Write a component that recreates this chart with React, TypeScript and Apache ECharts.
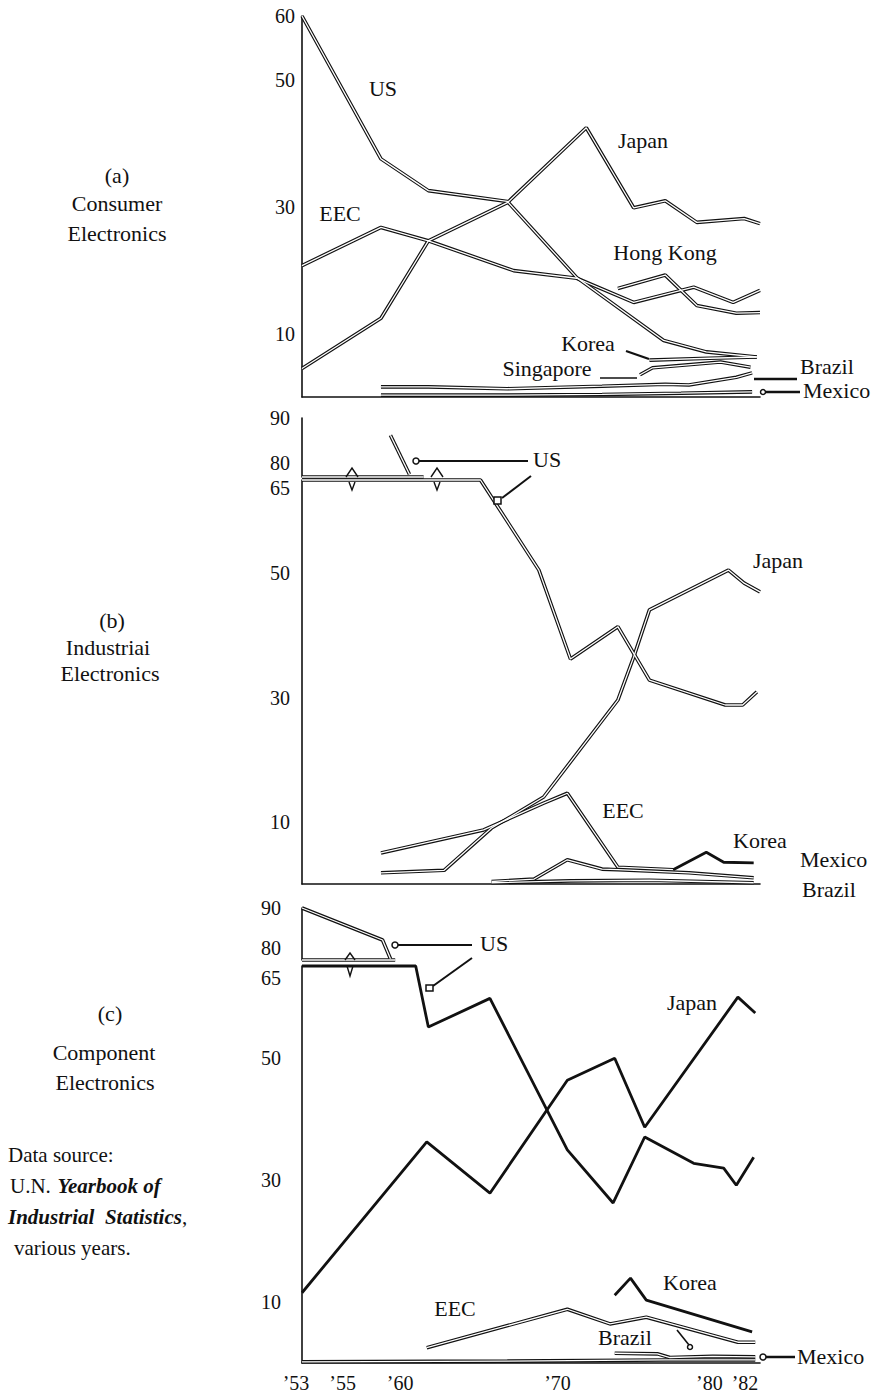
import React, { useEffect, useRef } from "react";
import * as echarts from "echarts";

const SERIF = '"Liberation Serif", "Times New Roman", serif';
const INK = "#111";

// ---- axes ----
const yearMin = 1953;
const yearMax = 1982;
const xTickYears = [1953, 1955, 1960, 1970, 1980, 1982];
const xTickTexts = ["’53", "’55", "’60", "’70", "’80", "’82"];
const aTicks = [10, 30, 50, 60];
const lowTicks = [10, 30, 50, 65];
const highTicks = [80, 90];

// ---- (a) Consumer Electronics: [year, share %] ----
const aUS = [[1953, 60], [1958, 37.5], [1961, 32.5], [1966, 30.8], [1970.4, 18.8], [1975.9, 8.9], [1978.6, 7.1], [1981.8, 6.3]];
const aJapan = [[1953, 4.5], [1958, 12.4], [1961, 24.6], [1966, 30.6], [1971, 42.4], [1974, 29.8], [1976, 30.9], [1978, 27.5], [1981, 28.1], [1982, 27.3]];
const aEEC = [[1953, 20.7], [1958, 26.7], [1961, 24.6], [1966.4, 19.9], [1970.4, 18.7], [1974, 14.9], [1977.8, 17.3], [1980.3, 14.9], [1982, 16.8]];
const aHongKong = [[1973, 17.1], [1976, 19.2], [1978, 14.4], [1980.5, 13.2], [1982, 13.3]];
const aKorea = [[1975, 5.8], [1978.8, 6.1], [1981.8, 6.3]];
const aSingapore = [[1974.4, 3.5], [1975.2, 4.6], [1979.5, 5.5], [1981.4, 4.7]];
const aBrazil = [[1958, 1.6], [1961, 1.6], [1966, 1.3], [1972, 1.7], [1976, 2.0], [1977.5, 1.9], [1980.5, 3.1], [1981.5, 3.8]];
const aMexico = [[1958, 0.3], [1966, 0.3], [1972, 0.4], [1977, 0.6], [1981.5, 0.8]];

// ---- (b) Industrial Electronics ----
const bUSUpperSegment = [[1958.6, 86.2], [1959.8, 77.6]];
const bUSUpperBreak = [[1953, 77], [1960.7, 77]];
const bUS = [[1953, 65], [1964.3, 65], [1968, 50.5], [1970, 36.2], [1973, 41.4], [1975, 32.8], [1979.8, 28.8], [1980.9, 28.8], [1981.8, 30.9]];
const bJapan = [[1958, 1.8], [1962, 2.2], [1965, 9], [1968.3, 14], [1973, 29.6], [1974, 36.5], [1975, 44.1], [1980, 50.5], [1981, 48.4], [1982, 47]];
const bEEC = [[1958, 5], [1964.5, 8.7], [1968.3, 13], [1969.8, 14.6], [1973, 2.7], [1976.5, 2.3]];
const bKorea = [[1976.5, 2.3], [1978.6, 5.1], [1979.7, 3.5], [1981.6, 3.4]];
const bMexico = [[1965, 0.4], [1967.7, 0.8], [1969.8, 3.9], [1972, 2.4], [1973, 2.3], [1977.5, 1.8], [1981.6, 1.0]];
const bBrazil = [[1965, 0.2], [1970, 0.5], [1975, 0.6], [1981.6, 0.2]];

// ---- (c) Component Electronics ----
const cUSUpperSegment = [[1953, 90], [1958.1, 82], [1958.6, 77.3]];
const cUSUpperBreak = [[1953, 77], [1958.9, 77]];
const cUS = [[1953, 65], [1960.2, 65], [1961, 55], [1964.9, 59.7], [1969.8, 34.9], [1972.7, 26.2], [1974.7, 37], [1977.8, 32.7], [1979.7, 31.9], [1980.5, 29.1], [1981.6, 33.7]];
const cJapan = [[1953, 11.5], [1960.9, 36.2], [1964.9, 27.8], [1969.8, 46.3], [1972.8, 49.9], [1974.7, 38.6], [1980.6, 59.9], [1981.7, 57.3]];
const cEEC = [[1960.9, 2.5], [1969.8, 8.8], [1972.5, 6.4], [1974.8, 7.5], [1980.6, 3.4], [1981.7, 3.4]];
const cKorea = [[1972.8, 11.1], [1973.8, 13.9], [1974.8, 10.3], [1981.5, 5.1]];
const cBrazil = [[1972.8, 1.6], [1975.5, 1.5], [1976.3, 0.9], [1979, 1.1], [1981.7, 1.0]];
const cMexico = [[1953, 0.2], [1966, 0.3], [1976, 0.5], [1981.7, 0.5]];

// grid index: 0 = (a), 1 = (b) upper, 2 = (b) lower, 3 = (c) upper, 4 = (c) lower
const seriesDefs: [number[][], number, string][] = [
  [aUS, 0, "hollow"], [aJapan, 0, "hollow"], [aEEC, 0, "hollow"], [aHongKong, 0, "hollow"],
  [aKorea, 0, "hollow"], [aSingapore, 0, "hollow"], [aBrazil, 0, "hollow"], [aMexico, 0, "hollow"],
  [bUSUpperSegment, 1, "hollow"], [bUSUpperBreak, 1, "hollow"],
  [bUS, 2, "hollow"], [bJapan, 2, "hollow"], [bEEC, 2, "hollow"], [bKorea, 2, "solid"],
  [bMexico, 2, "hollow"], [bBrazil, 2, "hollow"],
  [cUSUpperSegment, 3, "hollow"], [cUSUpperBreak, 3, "hollow"],
  [cUS, 4, "solid"], [cJapan, 4, "solid"], [cEEC, 4, "hollow"], [cKorea, 4, "solid"],
  [cBrazil, 4, "hollow"], [cMexico, 4, "hollow"],
];

function tube(data: number[][], idx: number, kind: string) {
  const base = {
    type: "line", xAxisIndex: idx, yAxisIndex: idx, data, symbol: "none",
    silent: true, clip: false, animation: false,
  };
  if (kind === "solid") {
    return [{ ...base, z: 4, lineStyle: { color: INK, width: 2.8 } }];
  }
  return [
    { ...base, z: 2, lineStyle: { color: INK, width: 3.6 } },
    { ...base, z: 3, lineStyle: { color: "#fff", width: 1.3 } },
  ];
}

const grids = [
  { left: 302, width: 458, top: 16, height: 381 },
  { left: 302, width: 458, top: 418, height: 59 },
  { left: 302, width: 458, top: 480, height: 404 },
  { left: 302, width: 458, top: 908, height: 52 },
  { left: 302, width: 458, top: 966, height: 397 },
];

const ySpecs = [
  { min: 0, max: 60, interval: 10, ticks: aTicks, margin: 7, drop: 0 },
  { min: 77, max: 90, interval: 1, ticks: highTicks, margin: 12, drop: 0 },
  { min: 0, max: 65, interval: 5, ticks: lowTicks, margin: 12, drop: 16 },
  { min: 77, max: 90, interval: 1, ticks: highTicks, margin: 21, drop: 0 },
  { min: 0, max: 65, interval: 5, ticks: lowTicks, margin: 21, drop: 24 },
];

const tickFont = { fontFamily: SERIF, fontSize: 20, color: INK };
const xShifts = [[0, 12], [18, 0], [0, 25], [0, 26], [0, 38], [0, 30]];

function buildOption() {
  const xAxis = grids.map((_, i) => ({
    type: "value",
    gridIndex: i,
    min: yearMin,
    max: yearMax,
    interval: 1,
    show: i === 0 || i === 2 || i === 4,
    axisLine: { show: true, onZero: false, lineStyle: { color: INK, width: 1.6 } },
    axisTick: { show: false },
    splitLine: { show: false },
    axisLabel:
      i === 4
        ? {
            show: true,
            margin: 10,
            ...tickFont,
            formatter: (v: number) => {
              const k = xTickYears.indexOf(Math.round(v));
              return k >= 0 && Math.abs(v - xTickYears[k]) < 1e-6 ? `{t${k}|${xTickTexts[k]}}` : "";
            },
            rich: Object.fromEntries(
              xShifts.map((s, k) => [`t${k}`, { ...tickFont, padding: [0, s[1], 0, s[0]] }])
            ),
          }
        : { show: false },
  }));

  const yAxis = ySpecs.map((s, i) => ({
    type: "value",
    gridIndex: i,
    min: s.min,
    max: s.max,
    interval: s.interval,
    axisLine: { show: true, lineStyle: { color: INK, width: 1.6 } },
    axisTick: { show: false },
    splitLine: { show: false },
    axisLabel: {
      show: true,
      margin: s.margin,
      ...tickFont,
      formatter: (v: number) => {
        const r = Math.round(v);
        if (Math.abs(v - r) > 1e-6 || s.ticks.indexOf(r) < 0) return "";
        if (r === 65 && s.drop) return `{low|${r}}`;
        return String(r);
      },
      rich: { low: { ...tickFont, padding: [s.drop, 0, 0, 0] } },
    },
  }));

  const series = seriesDefs.flatMap(([d, idx, kind]) => tube(d, idx, kind));

  const txt = (text: string, x: number, y: number, align = "left", size = 22, extra: any = {}) => ({
    type: "text",
    x,
    y,
    z: 10,
    style: {
      text,
      fill: INK,
      fontFamily: SERIF,
      fontSize: size,
      align,
      verticalAlign: "middle",
      ...extra,
    },
  });
  const ln = (x1: number, y1: number, x2: number, y2: number, w = 2) => ({
    type: "line",
    z: 10,
    shape: { x1, y1, x2, y2 },
    style: { stroke: INK, lineWidth: w },
  });
  const dot = (cx: number, cy: number, r = 3) => ({
    type: "circle",
    z: 11,
    shape: { cx, cy, r },
    style: { fill: "#fff", stroke: INK, lineWidth: 1.5 },
  });
  const box = (x: number, y: number, w = 7, h = 7) => ({
    type: "rect",
    z: 11,
    shape: { x, y, width: w, height: h },
    style: { fill: "#fff", stroke: INK, lineWidth: 1.5 },
  });
  const spike = (pts: number[][]) => ({
    type: "polyline",
    z: 10,
    shape: { points: pts },
    style: { stroke: INK, lineWidth: 1.4, fill: "none" },
  });
  const richFont = {
    n: { fontFamily: SERIF, fontSize: 21, fill: INK },
    i: { fontFamily: SERIF, fontSize: 21, fontStyle: "italic", fontWeight: "bold", fill: INK },
  };

  const graphic = [
    // left column titles
    txt("(a)", 117, 175, "center"),
    txt("Consumer", 117, 203, "center"),
    txt("Electronics", 117, 233, "center"),
    txt("(b)", 112, 620, "center"),
    txt("Industriai", 108, 647, "center"),
    txt("Electronics", 110, 673, "center"),
    txt("(c)", 110, 1013, "center"),
    txt("Component", 104, 1052, "center"),
    txt("Electronics", 105, 1082, "center"),
    txt("Data source:", 8, 1155, "left", 21),
    {
      type: "text",
      x: 10,
      y: 1186,
      z: 10,
      style: { text: "{n|U.N.}  {i|Yearbook of}", fill: INK, verticalAlign: "middle", rich: richFont },
    },
    {
      type: "text",
      x: 8,
      y: 1217,
      z: 10,
      style: { text: "{i|Industrial  Statistics}{n|,}", fill: INK, verticalAlign: "middle", rich: richFont },
    },
    txt("various years.", 14, 1248, "left", 21),

    // (a) labels
    txt("US", 383, 88, "center"),
    txt("EEC", 340, 213, "center"),
    txt("Japan", 643, 140, "center"),
    txt("Hong Kong", 665, 252, "center"),
    txt("Korea", 588, 343, "center"),
    txt("Singapore", 547, 368, "center"),
    txt("Brazil", 800, 366, "left"),
    txt("Mexico", 803, 390, "left"),
    ln(626, 351, 649, 359, 2.2),
    ln(600, 378, 637, 378, 1.5),
    ln(754, 379, 797, 379, 2.5),
    ln(766, 392, 800, 392, 2.5),
    dot(763, 392, 2.5),

    // (b) labels
    txt("US", 533, 459, "left"),
    txt("Japan", 753, 560, "left"),
    txt("EEC", 623, 810, "center"),
    txt("Korea", 733, 840, "left"),
    txt("Mexico", 800, 859, "left"),
    txt("Brazil", 802, 889, "left"),
    ln(419, 461, 528, 461, 2),
    dot(416, 461, 3),
    ln(531, 476, 502, 498, 2),
    box(494, 497),
    spike([[346, 477], [352, 468], [358, 477]]),
    spike([[349, 482], [352, 490], [355, 482]]),
    spike([[431, 477], [437, 468], [443, 477]]),
    spike([[434, 482], [437, 490], [440, 482]]),

    // (c) labels
    txt("US", 480, 943, "left"),
    txt("Japan", 667, 1002, "left"),
    txt("Korea", 663, 1282, "left"),
    txt("EEC", 455, 1308, "center"),
    txt("Brazil", 598, 1337, "left"),
    txt("Mexico", 797, 1356, "left"),
    ln(398, 945, 472, 945, 2),
    dot(395, 945, 3),
    ln(472, 958, 433, 986, 2),
    box(426, 985, 7, 6),
    ln(677, 1330, 689, 1345, 1.6),
    dot(690, 1347, 2.5),
    ln(766, 1357, 795, 1357, 2.5),
    dot(763, 1357, 3),
    spike([[345, 960], [350, 953], [355, 960]]),
    spike([[347, 966], [350, 976], [353, 966]]),
  ];

  return {
    animation: false,
    backgroundColor: "#fff",
    grid: grids,
    xAxis,
    yAxis,
    series,
    graphic,
  };
}

export default function App() {
  const ref = useRef<HTMLDivElement>(null);
  useEffect(() => {
    if (!ref.current) return;
    const chart = echarts.init(ref.current, undefined, { renderer: "svg" });
    chart.setOption(buildOption() as any);
    return () => chart.dispose();
  }, []);
  return (
    <div
      ref={ref}
      style={{ position: "fixed", left: 0, top: 0, width: 883, height: 1396, background: "#fff" }}
    />
  );
}
